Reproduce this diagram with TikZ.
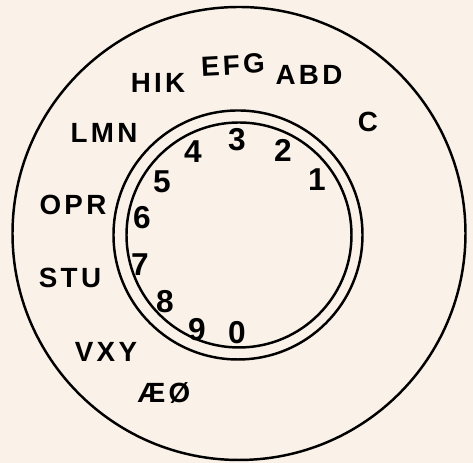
\documentclass[tikz,border=0pt]{standalone}
\usepackage{fontspec}
\setmainfont{Liberation Sans}
\newfontfamily\spaced[LetterSpace=12]{Liberation Sans}
\definecolor{paper}{RGB}{250,241,232}
\tikzset{
  ring/.style={line width=0.7pt},
  digit/.style={font=\fontsize{9}{9}\selectfont\bfseries, inner sep=0pt},
  letters/.style={font=\spaced\fontsize{7.9}{7.9}\selectfont\bfseries, inner sep=0pt}
}
\begin{document}
\begin{tikzpicture}
\fill[paper] (-2.38,2.34) rectangle (2.35,-2.29);
\useasboundingbox (-2.38,2.34) rectangle (2.35,-2.29);
\draw[ring] (0.01,0.005) circle (2.265);
\draw[ring] (0,-0.01) circle (1.245);
\draw[ring] (0.01,-0.01) circle (1.125);
% finger holes
\node[digit] (d1) at (0.79,0.54) {1};
\node[digit] (d2) at (0.45,0.84) {2};
\node[digit] (d3) at (-0.01,0.94) {3};
\node[digit] (d4) at (-0.45,0.82) {4};
\node[digit] (d5) at (-0.76,0.52) {5};
\node[digit] (d6) at (-0.96,0.16) {6};
\node[digit] (d7) at (-0.98,-0.31) {7};
\node[digit] (d8) at (-0.73,-0.68) {8};
\node[digit] (d9) at (-0.41,-0.96) {9};
\node[digit] (d0) at (-0.01,-0.99) {0};
% letters on the outer ring
\node[letters] (abd) at (0.71,1.59) {ABD};
\node[letters] (c) at (1.30,1.12) {C};
\node[letters, rotate=3] (efg) at (-0.05,1.69) {EFG};
\node[letters] (hik) at (-0.80,1.51) {HIK};
\node[letters] (lmn) at (-1.34,1.01) {LMN};
\node[letters] (opr) at (-1.65,0.29) {OPR};
\node[letters] (stu) at (-1.68,-0.44) {STU};
\node[letters] (vxy) at (-1.32,-1.18) {VXY};
\node[letters] (aeo) at (-0.74,-1.59) {ÆØ};
\end{tikzpicture}
\end{document}
